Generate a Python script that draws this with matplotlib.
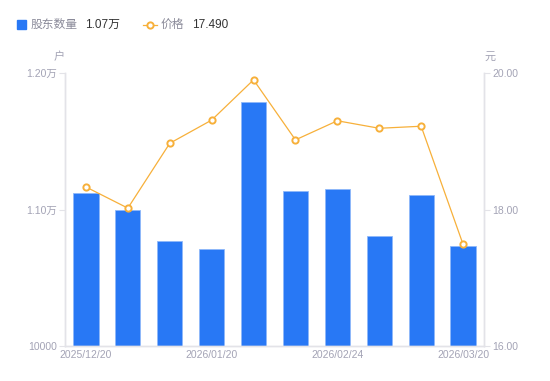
import matplotlib.pyplot as plt
from matplotlib.lines import Line2D
from matplotlib.patches import Rectangle

plt.rcParams['font.family'] = ['Liberation Sans', 'Noto Sans CJK SC', 'DejaVu Sans']

dates = ["2025/12/20", "", "", "2026/01/20", "", "", "2026/02/24", "", "", "2026/03/20"]
holders = [11124, 10993, 10766, 10708, 11790, 11139, 11153, 10803, 11109, 10730]
price = [18.33, 18.02, 18.97, 19.31, 19.90, 19.02, 19.30, 19.19, 19.22, 17.49]

left_ticks = [10000, 11000, 12000]
left_labels = ["10000", "1.10万", "1.20万"]
right_ticks = [16, 18, 20]
right_labels = ["16.00", "18.00", "20.00"]

blue = "#2878f5"
orange = "#f7b03a"
grey = "#a3a3b5"
axis_grey = "#e3e3e8"

fig = plt.figure(figsize=(5.5, 3.81), dpi=100)
ax = fig.add_axes([65 / 550, 1 - 346 / 381, 419 / 550, 273 / 381])
ax2 = ax.twinx()

x = list(range(len(holders)))
ax.bar(x, [h - 10000 for h in holders], bottom=10000, width=0.6,
       color=blue, edgecolor="#8fb8fa", linewidth=0.6, zorder=2)
ax.set_xlim(-0.5, len(holders) - 0.5)
ax.set_ylim(10000, 12000)
ax.set_yticks(left_ticks)
ax.set_yticklabels(left_labels)
ax.set_xticks(x)
ax.set_xticklabels(dates)

ax2.plot(x, price, color=orange, linewidth=0.9, marker="o", markersize=4.5,
         markerfacecolor="white", markeredgecolor=orange, markeredgewidth=1.4, zorder=3)
ax2.set_ylim(16, 20)
ax2.set_yticks(right_ticks)
ax2.set_yticklabels(right_labels)

for a in (ax, ax2):
    for s in a.spines.values():
        s.set_color(axis_grey)
        s.set_linewidth(1)
    a.spines['top'].set_visible(False)
    a.tick_params(colors=grey, labelsize=7.5, length=4, width=0.8)
    a.tick_params(axis='y', color=axis_grey, pad=2)
    for lab in a.get_yticklabels() + a.get_xticklabels():
        lab.set_color(grey)
ax.tick_params(axis='x', length=0, pad=3)

fig.text(59 / 550, 1 - 57 / 381, "户", color=grey, fontsize=8, ha="center", va="center")
fig.text(490 / 550, 1 - 57 / 381, "元", color=grey, fontsize=8, ha="center", va="center")

# legend
fig.patches.append(Rectangle((17 / 550, 1 - 29 / 381), 9 / 550, 9 / 381,
                             transform=fig.transFigure, color=blue, figure=fig))
fig.text(31 / 550, 1 - 24.5 / 381, "股东数量", color="#8a8a99", fontsize=8.5, va="center")
fig.text(85 / 550, 1 - 24.5 / 381, "1.07万", color="#333333", fontsize=8.5, va="center")
fig.lines.append(Line2D([143 / 550, 157 / 550], [1 - 24.5 / 381, 1 - 24.5 / 381],
                        transform=fig.transFigure, color=orange, linewidth=0.9))
fig.lines.append(Line2D([150 / 550], [1 - 24.5 / 381], transform=fig.transFigure,
                        marker="o", markersize=4.5, markerfacecolor="white",
                        markeredgecolor=orange, markeredgewidth=1.4, linestyle="none"))
fig.text(161 / 550, 1 - 24.5 / 381, "价格", color="#8a8a99", fontsize=8.5, va="center")
fig.text(192 / 550, 1 - 24.5 / 381, "17.490", color="#333333", fontsize=8.5, va="center")

fig.savefig("out.png", dpi=100)
